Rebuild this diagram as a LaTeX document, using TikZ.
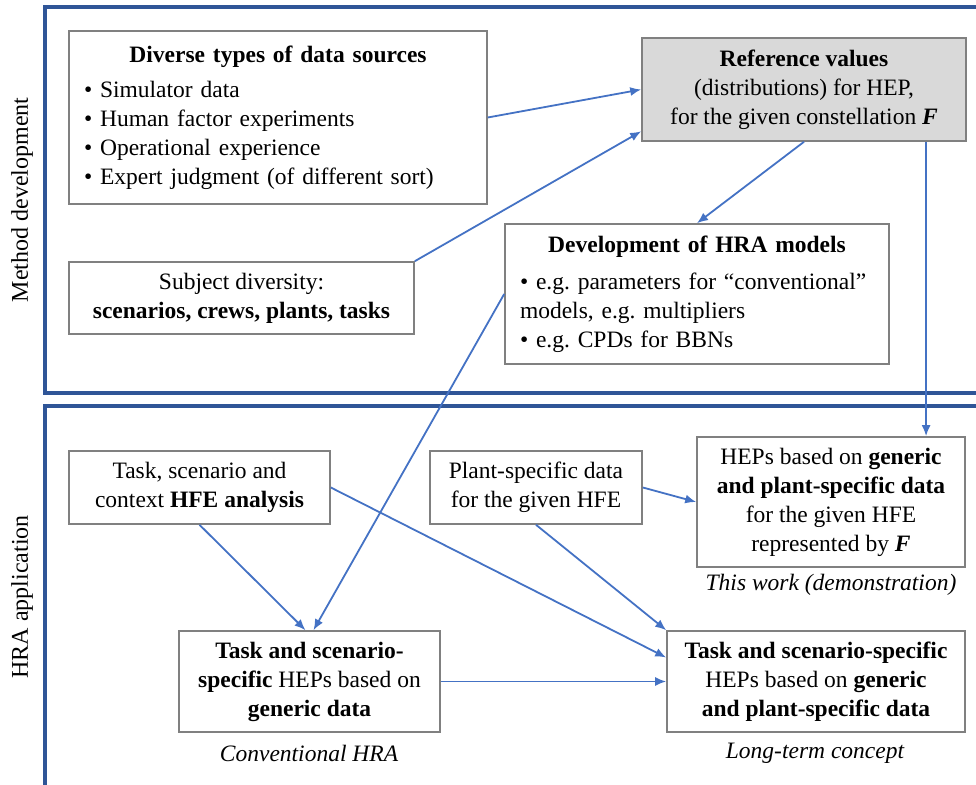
\documentclass[tikz,border=0pt]{standalone}
\usepackage{fontspec}
\setmainfont{Liberation Serif}
\usetikzlibrary{arrows.meta,calc,positioning}
\definecolor{framegray}{RGB}{128,128,128}
\definecolor{refgray}{RGB}{217,217,217}
\definecolor{flowblue}{RGB}{68,114,196}
\definecolor{paneblue}{RGB}{47,85,151}
\frenchspacing

\begin{document}
\begin{tikzpicture}[x=0.5pt, y=-0.5pt,
      font=\fontsize{11.75}{14.5}\selectfont,
      blk/.style={draw=framegray, line width=0.8pt, fill=white, align=center, inner sep=0pt},
      lst/.style={blk, align=left, inner xsep=7.5pt},
      pane/.style={draw=paneblue, line width=1.6pt},
      flow/.style={draw=flowblue, line width=0.9pt, -{Latex[length=5.5pt,width=4.5pt]}},
      note/.style={font=\fontsize{11.75}{14.5}\selectfont\itshape},
      side/.style={rotate=90, font=\fontsize{12}{14}\selectfont}
    ]
    \useasboundingbox (0,0) rectangle (976,785);
    \draw[pane] (976,7) -- (45,7) -- (45,393) -- (976,393);
    \draw[pane] (976,406) -- (45,406) -- (45,785);
    \node[side] (mdev) at (22,200) {Method development};
    \node[side] (happ) at (22,597) {HRA application};

    \node[lst, text width=194pt, minimum height=86.5pt] (src) at (278,117.5) {
      {\centering\textbf{Diverse types of data sources}\par}\vspace{3pt}
      \textbullet\ Simulator data\\
      \textbullet\ Human factor experiments\\
      \textbullet\ Operational experience\\
      \textbullet\ Expert judgment (of different sort)
    };
    \node[blk, minimum width=172.5pt, minimum height=36pt] (subj) at (241.5,298) {
      Subject diversity:\\
      \textbf{scenarios, crews, plants, tasks}
    };
    \node[blk, fill=refgray, minimum width=162pt, minimum height=51.5pt] (ref) at (804,89.5) {
      \textbf{Reference values}\\
      (distributions) for HEP,\\
      for the given constellation \textbf{\textit{F}}
    };
    \node[lst, text width=177pt, minimum height=70pt] (dev) at (697,294) {
      {\centering\textbf{Development of HRA models}\par}\vspace{4pt}
      \textbullet\ e.g. parameters for “conventional”\\
      models, e.g. multipliers\\
      \textbullet\ e.g. CPDs for BBNs
    };
    \node[blk, minimum width=130.5pt, minimum height=36.5pt] (hfe) at (199.5,487.5) {
      Task, scenario and\\
      context \textbf{HFE analysis}
    };
    \node[blk, minimum width=106pt, minimum height=36.5pt] (plant) at (536,487.5) {
      Plant-specific data\\
      for the given HFE
    };
    \node[blk, minimum width=134pt, minimum height=65pt] (gen) at (831,502) {
      HEPs based on \textbf{generic}\\
      \textbf{and plant-specific data}\\
      for the given HFE\\
      represented by \textbf{\textit{F}}
    };
    \node[blk, minimum width=130.5pt, minimum height=50.5pt] (conv) at (309.5,681.5) {
      \textbf{Task and scenario-}\\
      \textbf{specific} HEPs based on\\
      \textbf{generic data}
    };
    \node[blk, minimum width=149pt, minimum height=50.5pt] (long) at (816,681.5) {
      \textbf{Task and scenario-specific}\\
      HEPs based on \textbf{generic}\\
      \textbf{and plant-specific data}
    };
    \node[note] (demo) at (831,585) {This work (demonstration)};
    \node[note] (convnote) at (309,753) {Conventional HRA};
    \node[note] (longnote) at (815,753) {Long-term concept};

    \coordinate (refdrop) at ($(ref.south)!0.75!(ref.south east)$);
    \draw[flow] (src.east) -- (ref.west);
    \draw[flow] (subj.north east) -- ($(ref.south west)!0.1!(ref.north west)$);
    \draw[flow] (ref.south) -- (dev.north);
    \draw[flow] (refdrop) -- (refdrop |- gen.north);
    \draw[flow] (dev.west) -- ([xshift=2pt]conv.north);
    \draw[flow] (hfe.south) -- ([xshift=-2pt]conv.north);
    \draw[flow] (hfe.east) -- ([yshift=12pt]long.west);
    \draw[flow] (plant.south) -- (long.north west);
    \draw[flow] (plant.east) -- (gen.west);
    \draw[flow] (conv.east) -- (long.west);
  \end{tikzpicture}
\end{document}
